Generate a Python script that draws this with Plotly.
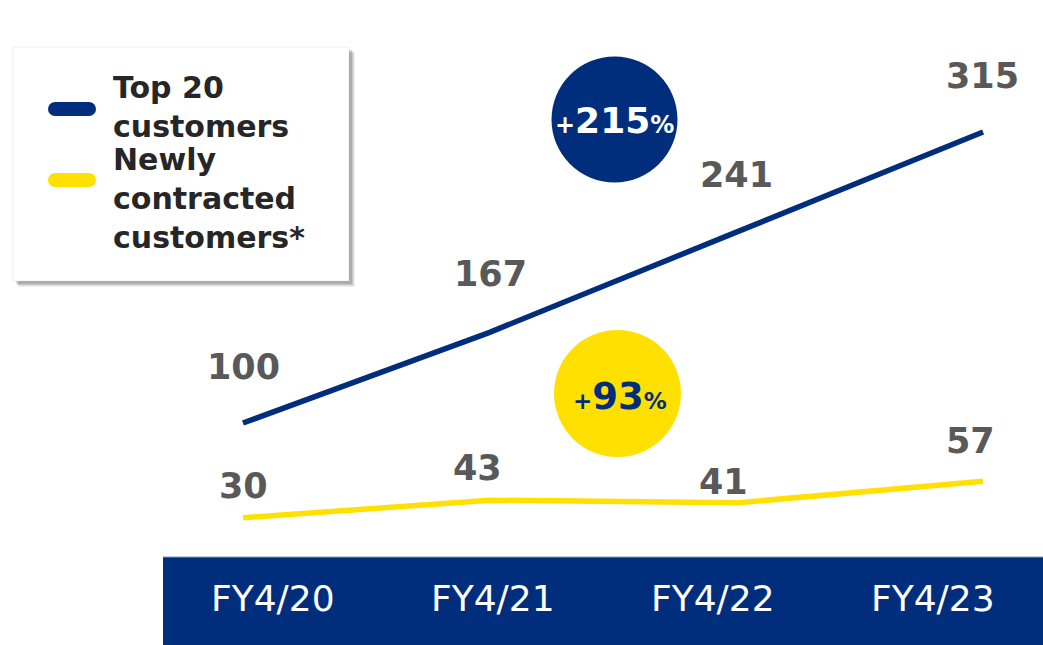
import plotly.graph_objects as go

# ---- data ----
categories = ["FY4/20", "FY4/21", "FY4/22", "FY4/23"]
top20 = [100, 167, 241, 315]
newly = [30, 43, 41, 57]
series_names = ["Top 20<br>customers", "Newly<br>contracted<br>customers*"]
growth_top20 = "215"
growth_newly = "93"

# ---- styling ----
W, H = 1043, 645
NAVY = "#002E7D"
YELLOW = "#FFE000"
LABEL_GREY = "#595959"
TEXT_DARK = "#262626"
NUM_FONT = "DejaVu Sans"

top20_shift = [56, 58, 57, 56]
top20_xshift = [1, 1, 0, -1]
newly_shift = [32, 32, 21, 40]
newly_xshift = [1, -12, -13, -13]


def px(x):
    return x / W


def py(y):
    return 1 - y / H


fig = go.Figure()
fig.add_trace(go.Scatter(x=categories, y=top20, mode="lines",
                         line=dict(color=NAVY, width=5.5), showlegend=False,
                         hoverinfo="skip"))
fig.add_trace(go.Scatter(x=categories, y=newly, mode="lines",
                         line=dict(color=YELLOW, width=5.5), showlegend=False,
                         hoverinfo="skip"))

annotations = []
for c, v, dy, dx in zip(categories, top20, top20_shift, top20_xshift):
    annotations.append(dict(x=c, y=v, xref="x", yref="y", text=str(v),
                            showarrow=False, yshift=dy, xshift=dx,
                            font=dict(family=NUM_FONT, size=35, color=LABEL_GREY, weight="bold")))
for c, v, dy, dx in zip(categories, newly, newly_shift, newly_xshift):
    annotations.append(dict(x=c, y=v, xref="x", yref="y", text=str(v),
                            showarrow=False, yshift=dy, xshift=dx,
                            font=dict(family=NUM_FONT, size=35, color=LABEL_GREY, weight="bold")))

# category band labels
for i, c in enumerate(categories):
    annotations.append(dict(x=i, y=py(598), xref="x2", yref="paper", text=c,
                            showarrow=False, yanchor="middle",
                            font=dict(family="DejaVu Sans", size=36, color="white")))

# growth bubbles text
annotations.append(dict(x=px(614), y=py(120), xref="paper", yref="paper",
                        text="<span style='font-size:24px'>+</span>" + growth_top20 +
                             "<span style='font-size:24px'>%</span>",
                        showarrow=False, xanchor="center", yanchor="middle",
                        font=dict(family=NUM_FONT, size=36, color="white", weight="bold")))
annotations.append(dict(x=px(620), y=py(396), xref="paper", yref="paper",
                        text="<span style='font-size:23px'>+</span>" + growth_newly +
                             "<span style='font-size:23px'>%</span>",
                        showarrow=False, xanchor="center", yanchor="middle",
                        font=dict(family=NUM_FONT, size=37, color=NAVY, weight="bold")))

# legend text
annotations.append(dict(x=px(111), y=py(107), xref="paper", yref="paper",
                        text=series_names[0], align="left",
                        showarrow=False, xanchor="left", yanchor="middle",
                        font=dict(family=NUM_FONT, size=30, color=TEXT_DARK, weight="bold")))
annotations.append(dict(x=px(111), y=py(199), xref="paper", yref="paper",
                        text=series_names[1], align="left",
                        showarrow=False, xanchor="left", yanchor="middle",
                        font=dict(family=NUM_FONT, size=30, color=TEXT_DARK, weight="bold")))

shapes = []
# legend box shadow + box
for off, op in [(6, 0.06), (5, 0.08), (4, 0.10), (3, 0.12)]:
    shapes.append(dict(type="rect", xref="paper", yref="paper",
                       x0=px(13 + off), x1=px(349 + off), y0=py(281 + off), y1=py(47 + off),
                       fillcolor=f"rgba(0,0,0,{op})", line=dict(width=0), layer="above"))
shapes.append(dict(type="rect", xref="paper", yref="paper",
                   x0=px(13), x1=px(349), y0=py(281), y1=py(47),
                   fillcolor="white", line=dict(color="rgba(0,0,0,0.06)", width=1), layer="above"))
# legend samples (rounded bars)
for yc, col in [(109, NAVY), (180, YELLOW)]:
    shapes.append(dict(type="line", xref="paper", yref="paper",
                       x0=px(55), x1=px(89), y0=py(yc), y1=py(yc),
                       line=dict(color=col, width=14), layer="above"))
    for xc in (55, 89):
        shapes.append(dict(type="circle", xref="paper", yref="paper",
                           x0=px(xc - 7), x1=px(xc + 7), y0=py(yc + 7), y1=py(yc - 7),
                           fillcolor=col, line=dict(width=0), layer="above"))

# bottom category band
shapes.append(dict(type="rect", xref="paper", yref="paper",
                   x0=px(163), x1=1, y0=0, y1=py(557),
                   fillcolor=NAVY, line=dict(width=0), layer="above"))
shapes.append(dict(type="line", xref="paper", yref="paper",
                   x0=px(163), x1=1, y0=py(557), y1=py(557),
                   line=dict(color="#8797b8", width=1), layer="above"))

# growth bubbles
shapes.append(dict(type="circle", xref="paper", yref="paper",
                   x0=px(551.5), x1=px(677.5), y0=py(182.5), y1=py(56.5),
                   fillcolor=NAVY, line=dict(width=0), layer="above"))
shapes.append(dict(type="circle", xref="paper", yref="paper",
                   x0=px(554), x1=px(681), y0=py(457), y1=py(330),
                   fillcolor=YELLOW, line=dict(width=0), layer="above"))

fig.update_layout(
    width=W, height=H,
    margin=dict(l=0, r=0, t=0, b=0),
    paper_bgcolor="white", plot_bgcolor="rgba(0,0,0,0)",
    xaxis=dict(type="category", range=[-0.985, 3.243], visible=False, fixedrange=True),
    xaxis2=dict(domain=[px(163), 1], range=[-0.5, 3.5], anchor="y",
                visible=False, fixedrange=True),
    yaxis=dict(range=[-64.0, 412.5], visible=False, fixedrange=True),
    shapes=shapes,
    annotations=annotations,
    showlegend=False,
)

fig.write_html(
    "out.html",
    config={"displayModeBar": False},
    post_script="document.body.style.margin='0';document.body.style.overflow='hidden';",
)
